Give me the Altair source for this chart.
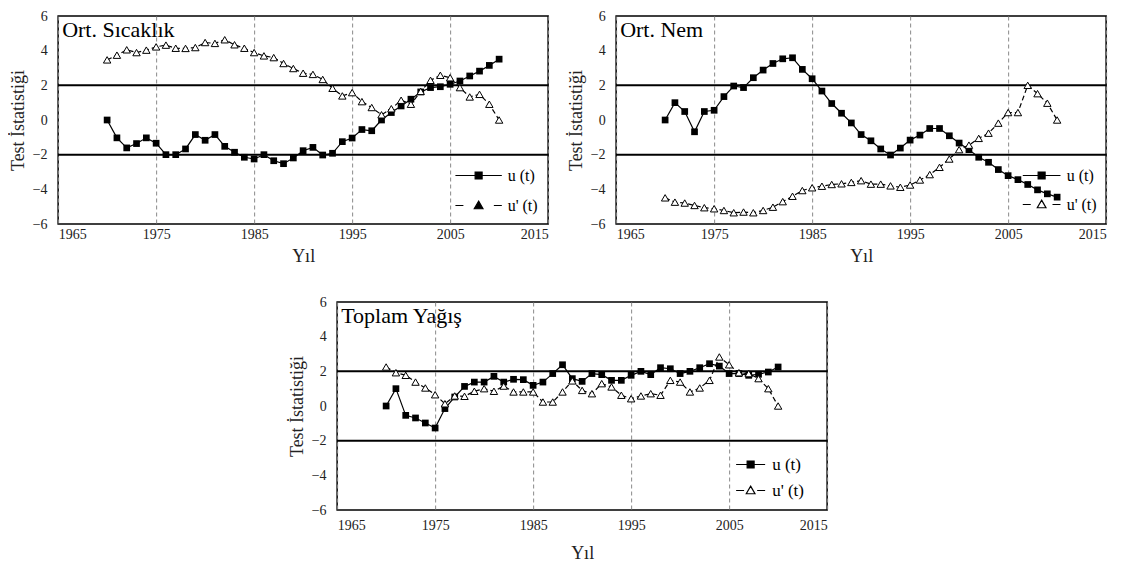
import altair as alt
import pandas as pd

# ---------------- data ----------------
years = list(range(1970, 2011))

sicaklik_u = [0.0, -1.03, -1.61, -1.36, -1.03, -1.34, -2.0, -2.0, -1.67, -0.84,
              -1.17, -0.84, -1.52, -1.86, -2.15, -2.25, -2.0, -2.35, -2.52, -2.19,
              -1.77, -1.58, -2.02, -1.92, -1.25, -1.04, -0.55, -0.62, 0.0, 0.43,
              0.81, 1.2, 1.62, 1.87, 1.92, 2.06, 2.25, 2.54, 2.82, 3.15, 3.51]
sicaklik_u2 = [3.47, 3.74, 4.05, 3.89, 4.03, 4.22, 4.32, 4.14, 4.13, 4.18,
               4.47, 4.42, 4.63, 4.34, 4.14, 3.89, 3.70, 3.60, 3.26, 2.97,
               2.70, 2.63, 2.34, 1.83, 1.39, 1.58, 1.06, 0.72, 0.30, 0.65,
               1.14, 0.91, 1.65, 2.29, 2.58, 2.44, 1.87, 1.33, 1.48, 0.91, 0.0]

nem_u = [0.0, 1.0, 0.49, -0.68, 0.49, 0.56, 1.35, 1.96, 1.87, 2.44,
         2.88, 3.26, 3.53, 3.59, 2.92, 2.38, 1.67, 0.95, 0.39, -0.17,
         -0.84, -1.2, -1.67, -2.02, -1.62, -1.16, -0.87, -0.49, -0.49, -0.91,
         -1.33, -1.71, -2.15, -2.44, -2.86, -3.21, -3.44, -3.72, -4.03, -4.26, -4.45]
nem_u2 = [-4.49, -4.74, -4.79, -4.93, -5.06, -5.12, -5.22, -5.35, -5.31, -5.35,
          -5.22, -5.03, -4.71, -4.40, -4.07, -3.91, -3.82, -3.72, -3.68, -3.60,
          -3.50, -3.70, -3.70, -3.80, -3.88, -3.75, -3.46, -3.15, -2.73, -2.25,
          -1.71, -1.45, -1.06, -0.76, -0.18, 0.43, 0.43, 2.0, 1.52, 0.97, 0.0]

yagis_u = [0.0, 1.0, -0.54, -0.69, -0.98, -1.27, -0.15, 0.52, 1.13, 1.38,
           1.38, 1.71, 1.38, 1.54, 1.52, 1.19, 1.38, 1.87, 2.38, 1.58,
           1.42, 1.87, 1.81, 1.48, 1.48, 1.77, 2.0, 1.81, 2.21, 2.15,
           1.87, 2.0, 2.21, 2.44, 2.3, 1.87, 1.87, 1.77, 1.83, 1.96, 2.25]
yagis_u2 = [2.25, 1.92, 1.77, 1.38, 1.04, 0.65, 0.13, 0.58, 0.56, 0.85,
            1.0, 0.85, 1.15, 0.81, 0.81, 0.81, 0.23, 0.23, 0.81, 1.45,
            0.9, 0.71, 1.29, 1.1, 0.62, 0.42, 0.58, 0.71, 0.62, 1.48,
            1.38, 0.81, 1.04, 1.48, 2.83, 2.38, 1.92, 1.87, 1.58, 1.0, 0.0]

panel_titles = ["Ort. Sıcaklık", "Ort. Nem", "Toplam Yağış"]
series_names = ["u (t)", "u' (t)"]
x_ticks = [1965, 1975, 1985, 1995, 2005, 2015]
y_ticks = [-6, -4, -2, 0, 2, 4, 6]
limits = [2, -2]
x_title = "Yıl"
y_title = "Test İstatistiği"

FONT = "Liberation Serif"
W, H = 490, 208


def legend_paths(ext):
    s = 0.24
    u_path = (f"M{-ext},0L{ext},0"
              f"M{-s},{-s}L{s},{-s}L{s},{s}L{-s},{s}Z")
    d = 0.55
    t = 0.3
    u2_path = (f"M{-ext},0L{-ext + d},0M{ext - d},0L{ext},0"
               f"M0,{-t}L{t},{t * 0.75}L{-t},{t * 0.75}Z")
    return [u_path, u2_path]


def panel(title, u, u2, leg_x, leg_y, ext, label_offset, leg_font, row_pad,
          tri_fill, x_label_pad, x_title_pad):
    df = pd.DataFrame({
        "Yıl": years + years,
        "Değer": u + u2,
        "Seri": [series_names[0]] * len(years) + [series_names[1]] * len(years),
    })
    x_enc = alt.X("Yıl:Q",
                  scale=alt.Scale(domain=[1965, 2015], nice=False, zero=False),
                  axis=alt.Axis(values=x_ticks, format="d", title=x_title,
                                grid=True, gridColor="#8a8a8a", gridDash=[4, 3],
                                gridWidth=1, domain=False, ticks=False,
                                labelOverlap=False,
                                labelFont=FONT, labelFontSize=14, labelColor="#222",
                                labelPadding=x_label_pad, titleFont=FONT,
                                titleFontSize=18, titleFontWeight="normal",
                                titleColor="#222", titlePadding=x_title_pad))
    y_enc = alt.Y("Değer:Q",
                  scale=alt.Scale(domain=[-6, 6], nice=False),
                  axis=alt.Axis(values=y_ticks, title=y_title, grid=False,
                                domain=False, ticks=False, labelOverlap=False,
                                labelFont=FONT,
                                labelFontSize=14, labelColor="#222",
                                labelPadding=11, titleFont=FONT,
                                titleFontSize=18, titleFontWeight="normal",
                                titleColor="#222", titlePadding=5))
    base = alt.Chart(df).encode(x=x_enc, y=y_enc)

    rules = alt.Chart(pd.DataFrame({"Değer": limits})).mark_rule(
        color="black", strokeWidth=2).encode(y=y_enc)

    f_u = alt.datum.Seri == series_names[0]
    f_u2 = alt.datum.Seri == series_names[1]
    u_line = base.transform_filter(f_u).mark_line(color="black", strokeWidth=1.2)
    u2_line = base.transform_filter(f_u2).mark_line(
        color="black", strokeWidth=1.2, strokeDash=[5, 3])
    u_pts = base.transform_filter(f_u).mark_point(
        shape="square", filled=True, color="black", size=45, opacity=1)
    u2_pts = base.transform_filter(f_u2).mark_point(
        shape="triangle-up", fill="white", stroke="black", strokeWidth=1,
        size=55, opacity=1)

    title_txt = alt.Chart(pd.DataFrame({"ad": [title]})).mark_text(
        align="left", baseline="alphabetic", font=FONT, fontSize=22,
        color="black").encode(text="ad:N", x=alt.value(4), y=alt.value(21))

    leg = alt.Legend(title=None, orient="none", legendX=leg_x, legendY=leg_y,
                     labelFont=FONT, labelFontSize=leg_font, labelColor="black",
                     symbolSize=841, symbolStrokeWidth=1.2,
                     symbolStrokeColor="black", symbolOpacity=1,
                     labelOffset=label_offset, rowPadding=row_pad, padding=0)
    legend_layer = base.transform_filter("false").mark_point(
        stroke="black", strokeWidth=1.2, opacity=1).encode(
        shape=alt.Shape("Seri:N", scale=alt.Scale(domain=series_names,
                                                   range=legend_paths(ext)),
                        legend=leg),
        fill=alt.Fill("Seri:N", scale=alt.Scale(domain=series_names,
                                                range=["black", tri_fill]),
                      legend=leg),
        stroke=alt.Stroke("Seri:N", scale=alt.Scale(domain=series_names,
                                                    range=["black", "black"]),
                          legend=leg))

    return alt.layer(rules, u_line, u2_line, u_pts, u2_pts, title_txt,
                     legend_layer).properties(width=W, height=H)


p1 = panel(panel_titles[0], sicaklik_u, sicaklik_u2, 405, 144, 1.6, 13.5, 16, 6,
           "black", 3, 6)
p2 = panel(panel_titles[1], nem_u, nem_u2, 410, 144, 1.3, 9.5, 16, 5,
           "white", 3, 6)
p3 = panel(panel_titles[2], yagis_u, yagis_u2, 398, 147, 1.0, 6, 17, 2,
           "white", 8, 12)

top_row = alt.hconcat(p1, p2, spacing=16).resolve_scale(
    shape="independent", fill="independent", stroke="independent"
).resolve_legend(shape="independent", fill="independent", stroke="independent")

chart = alt.vconcat(
    top_row,
    p3,
    spacing=28,
    center=True,
).resolve_scale(
    shape="independent", fill="independent", stroke="independent"
).resolve_legend(
    shape="independent", fill="independent", stroke="independent"
).properties(
    padding={"left": 0, "top": 0, "right": 0, "bottom": 2}
).configure_view(stroke="black", strokeWidth=1.5)

chart.save("out.html", embed_options={"renderer": "svg", "actions": False})
